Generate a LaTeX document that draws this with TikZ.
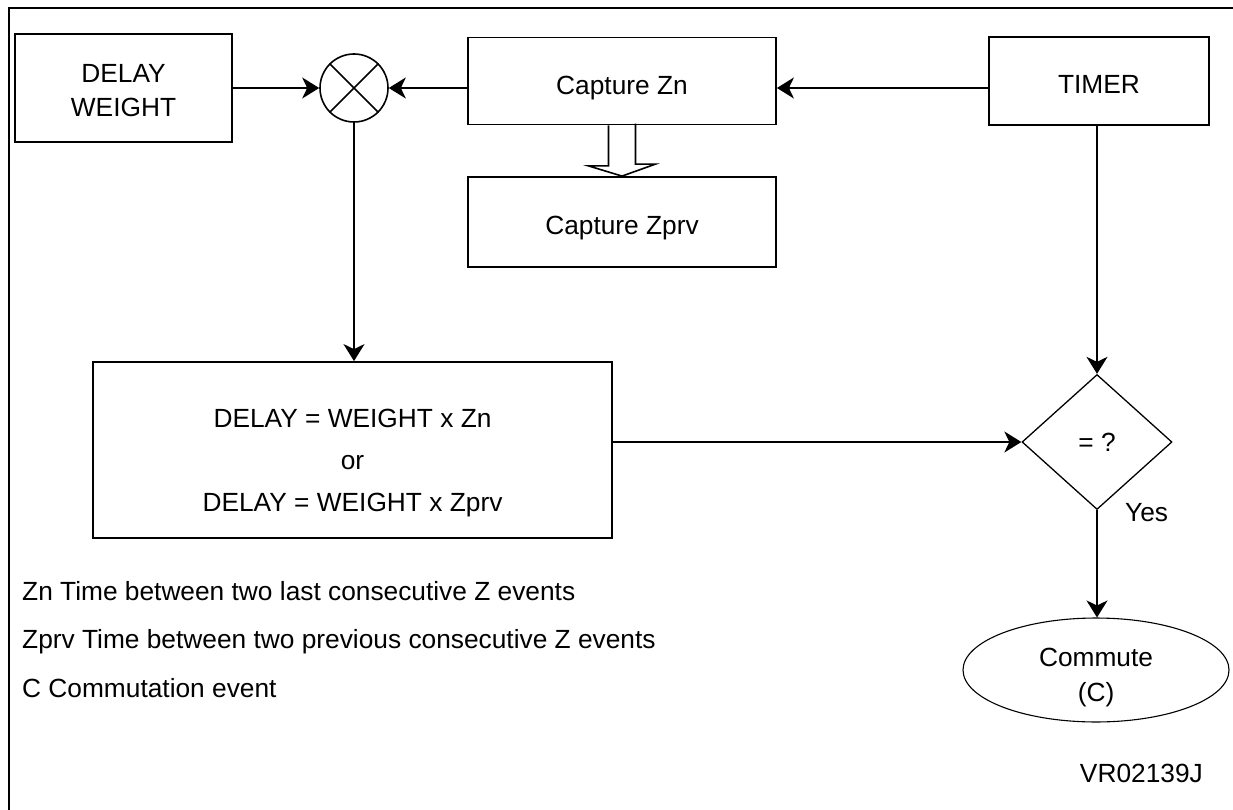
\documentclass[tikz,border=0pt]{standalone}
\usepackage{fontspec}
\setmainfont{Liberation Sans}
\usetikzlibrary{shapes.geometric,arrows.meta}
\begin{document}
\begin{tikzpicture}[x=1pt,y=-1pt,
  every node/.style={font=\fontsize{26.3}{34}\selectfont},
  box/.style={draw,line width=1.8pt,inner sep=0pt,align=center},
  arr/.style={line width=1.8pt,-{Stealth[length=17pt,width=21pt,inset=5pt]}},
  thinline/.style={draw,line width=1.3pt,inner sep=0pt,align=center}]
\useasboundingbox (0,0) rectangle (1233,810);
% outer frame
\draw[line width=1.8pt] (9,810) -- (9,8) -- (1233,8);

\node[box,minimum width=217,minimum height=108,text height=56.8pt,text depth=0pt] (dw) at (123.5,88) {DELAY\\WEIGHT};
\node[draw,circle,line width=1.6pt,minimum size=68,inner sep=0pt] (mul) at (354,88) {};
\draw[line width=1.6pt] (mul.north west) -- (mul.south east) (mul.north east) -- (mul.south west);
\node[box,minimum width=308,minimum height=87,text height=28pt,text depth=0pt] (cz) at (622,81) {Capture Zn};
\node[box,minimum width=308,minimum height=90,text height=25pt,text depth=0pt] (czp) at (622,222) {Capture Zprv};
\node[box,minimum width=220,minimum height=88,text height=25pt,text depth=0pt] (timer) at (1099,81) {TIMER};
\node[box,minimum width=519,minimum height=176,font=\fontsize{26.3}{42}\selectfont,
  text height=128.3pt,text depth=5.5pt] (fb) at (352.5,450)
  {DELAY = WEIGHT x Zn\\or\\DELAY = WEIGHT x Zprv};
\node[thinline,diamond,minimum width=150,minimum height=135] (dia) at (1097,442) {= ?};
\node[thinline,ellipse,line width=1.1pt,minimum width=266,minimum height=102,
  font=\fontsize{26.3}{35}\selectfont,text height=68pt,text depth=5.5pt] (comm) at (1096,670) {Commute\\(C)};

% hollow arrow
\draw[line width=1.6pt,line join=miter] (cz.south) ++(-13.5,0) -- ++(0,40.5) -- ++(-20,0) -- (czp.north)
  -- ++(33.5,-12) -- ++(-20,0) -- ++(0,-40.5);

% connectors
\draw[arr] (dw) -- (mul);
\draw[arr] (cz.west |- mul) -- (mul.east);
\draw[arr] (timer.west |- mul) -- (cz.east |- mul);
\draw[arr] (mul.south) -- (mul.south |- fb.north);
\draw[arr] (fb.east |- dia.west) -- (dia.west);
\draw[arr] (timer.south -| dia.north) -- (dia.north);
\draw[arr] (dia.south) -- (dia.south |- comm.north);

% labels
\node[anchor=base west,inner sep=0pt] (yes) at (1125,521) {Yes};
\node[anchor=base west,inner sep=0pt] (l1) at (22,600) {Zn Time between two last consecutive Z events};
\node[anchor=base west,inner sep=0pt] (l2) at (22,648) {Zprv Time between two previous consecutive Z events};
\node[anchor=base west,inner sep=0pt] (l3) at (22,697) {C Commutation event};
\node[anchor=base east,inner sep=0pt] (vr) at (1203,782) {VR02139J};
\end{tikzpicture}
\end{document}
